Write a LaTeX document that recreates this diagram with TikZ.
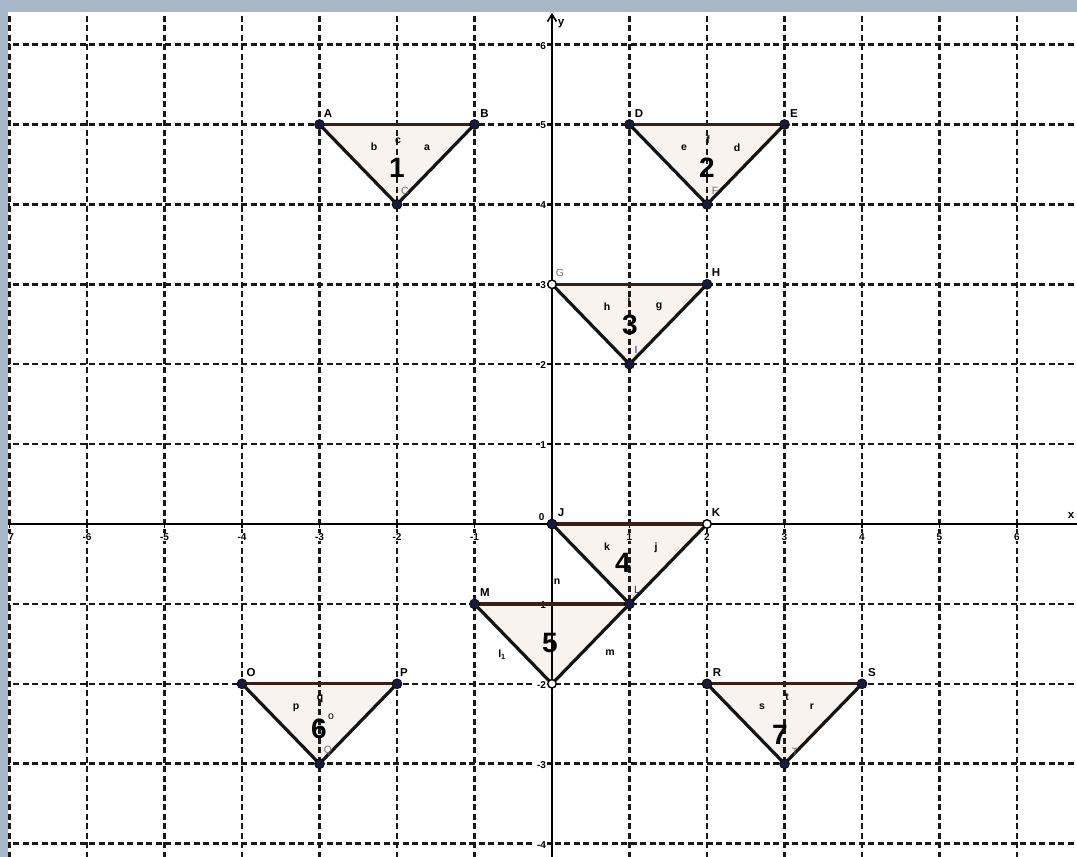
\documentclass[tikz,border=0pt]{standalone}
\usepackage{fontspec}
\setmainfont{Liberation Sans}
\usetikzlibrary{arrows.meta}
\definecolor{bandc}{RGB}{168,184,200}
\definecolor{gridc}{RGB}{25,25,25}
\definecolor{topc}{RGB}{58,32,20}
\definecolor{sidec}{RGB}{20,20,20}
\definecolor{ptc}{RGB}{25,25,60}
\definecolor{trifill}{RGB}{153,51,0}
\definecolor{navyl}{RGB}{40,40,130}
\definecolor{greyl}{RGB}{110,110,110}
\begin{document}
\begin{tikzpicture}[x=1pt,y=-1pt,
  gridline/.style={draw=gridc, line width=2.5pt, dash pattern=on 6pt off 3.5pt},
  axisline/.style={line width=2.6pt, draw=black},
  ticklab/.style={font=\bfseries\fontsize{10}{11}\selectfont, fill=white, inner sep=0.8pt},
  plab/.style={font=\bfseries\fontsize{11.5}{12}\selectfont, inner sep=0pt},
  slab/.style={font=\bfseries\fontsize{10.5}{11}\selectfont, inner sep=0pt},
  num/.style={font=\bfseries\fontsize{28}{30}\selectfont, inner sep=0pt},
  tri/.style={fill=trifill, fill opacity=0.06},
  topedge/.style={draw=topc, line width=3.2pt, line cap=round},
  sideedge/.style={draw=sidec, line width=3.2pt, line cap=round, line join=round},
  dot/.style={circle, fill=ptc, draw=black, line width=0.6pt, minimum size=10pt, inner sep=0pt},
  hdot/.style={circle, fill=white, draw=black, line width=1.4pt, minimum size=8.5pt, inner sep=0pt}]

\useasboundingbox (0,0) rectangle (1077,857);
\fill[white] (0,0) rectangle (1077,857);

% grid and point coordinates (graph units)
\begin{scope}[shift={(552,524)}, x=77.5pt, y=79.9pt]
  \foreach \i in {-7,...,-1,1,2,...,6} \draw[gridline] (\i,6.6) -- (\i,-4.2);
  \foreach \j in {-4,...,-1,1,2,...,6} \draw[gridline] (-7.2,\j) -- (6.8,\j);
  \coordinate (A) at (-3,5);  \coordinate (B) at (-1,5);  \coordinate (C) at (-2,4);
  \coordinate (D) at (1,5);   \coordinate (E) at (3,5);   \coordinate (F) at (2,4);
  \coordinate (G) at (0,3);   \coordinate (H) at (2,3);   \coordinate (I) at (1,2);
  \coordinate (J) at (0,0);   \coordinate (K) at (2,0);   \coordinate (L) at (1,-1);
  \coordinate (M) at (-1,-1); \coordinate (N) at (0,-2);
  \coordinate (O) at (-4,-2); \coordinate (P) at (-2,-2); \coordinate (Q) at (-3,-3);
  \coordinate (R) at (2,-2);  \coordinate (S) at (4,-2);  \coordinate (T) at (3,-3);
  % axis ticks
  \foreach \i in {-7,...,-1,1,2,...,6} \draw[line width=1.4pt] (\i,0) -- ++(0,-4pt);
  \foreach \j in {-4,...,-1,1,2,...,6} \draw[line width=1.4pt] (0,\j) -- ++(-4pt,0);
  % tick labels
  \foreach \i in {-7,...,-1,1,2,...,6} \node[ticklab] at ([yshift=-13pt]\i,0) {\i};
  \foreach \j in {-4,...,-1,1,2,...,6} \node[ticklab, anchor=east] at ([xshift=-5pt,yshift=-1pt]0,\j) {\j};
\end{scope}
\node[ticklab] (zero) at (541.7,516.7) {0};

% axes
\draw[axisline] (0,524) -- (1077,524);
\draw[axisline, -{Straight Barb[length=7pt,width=9pt,line width=1.6pt]}] (552,857) -- (552,13);
\node[plab] (ylab) at (561,24) {y};
\node[plab] (xlab) at (1071,515) {x};

% triangles
\foreach \p/\q/\r in {A/B/C, D/E/F, G/H/I, J/K/L, M/L/N, O/P/Q, R/S/T}{
  \fill[tri] (\p) -- (\q) -- (\r) -- cycle;
  \draw[sideedge] (\p) -- (\r) -- (\q);
  \draw[topedge] (\p) -- (\q);
}

% points
\foreach \p in {A,B,C,D,E,F,H,I,J,L,M,O,P,Q,R,S,T} \node[dot] at (\p) {};
\foreach \p in {G,K,N} \node[hdot] at (\p) {};

% point labels
\node[plab] (lA) at (328,114) {A};
\node[plab] (lB) at (484.5,114) {B};
\node[plab, text=greyl, font=\fontsize{10.5}{11}\selectfont] (lC) at (405,191) {C};
\node[plab] (lD) at (639,114) {D};
\node[plab] (lE) at (794,114) {E};
\node[plab, text=greyl, font=\fontsize{10.5}{11}\selectfont] (lF) at (715,191) {F};
\node[plab, text=greyl, font=\fontsize{10.5}{11}\selectfont] (lG) at (560,273) {G};
\node[plab] (lH) at (716,273) {H};
\node[plab, text=navyl, font=\fontsize{10.5}{11}\selectfont] (lI) at (636,350) {I};
\node[plab] (lJ) at (561,513) {J};
\node[plab] (lK) at (716,513) {K};
\node[plab, text=navyl, font=\fontsize{10.5}{11}\selectfont] (lL) at (637,590) {L};
\node[plab] (lM) at (485,593) {M};
\node[plab] (lO) at (251,673) {O};
\node[plab] (lP) at (404,673) {P};
\node[plab, text=greyl, font=\fontsize{10.5}{11}\selectfont] (lQ) at (328,751) {Q};
\node[plab] (lR) at (717,673) {R};
\node[plab] (lS) at (872,673) {S};
\node[plab, text=greyl, font=\fontsize{10.5}{11}\selectfont] (lT) at (795,752) {T};

% segment labels
\node[slab] (sb) at (374,147) {b};
\node[slab] (sc) at (398,141) {c};
\node[slab] (sa) at (427,148) {a};
\node[slab] (se) at (684,148) {e};
\node[slab] (sf) at (708,140) {f};
\node[slab] (sd) at (737,148) {d};
\node[slab] (sh) at (607,307) {h};
\node[slab] (si) at (629,300) {i};
\node[slab] (sg) at (659,307) {g};
\node[slab] (sk) at (607,547) {k};
\node[slab] (sj) at (656,548) {j};
\node[slab] (sn) at (557,582) {n};
\node[slab] (sl) at (502,655) {l\textsubscript{1}};
\node[slab] (sm) at (610,653) {m};
\node[slab] (sp) at (296,708) {p};
\node[slab] (sq) at (320,699) {q};
\node[slab, font=\fontsize{10.5}{11}\selectfont] (so) at (331,717) {o};
\node[slab] (ss) at (762,707) {s};
\node[slab] (st) at (787,697) {t};
\node[slab] (sr) at (812,707) {r};

% triangle numbers
\node[num] (n1) at (397,168) {1};
\node[num] (n2) at (707,168) {2};
\node[num] (n3) at (630,325) {3};
\node[num] (n4) at (623,563) {4};
\node[num] (n5) at (550,643) {5};
\node[num] (n6) at (319,729) {6};
\node[num] (n7) at (780,735) {7};

% window band
\fill[bandc] (0,0) rectangle (1077,12);
\fill[bandc] (0,0) rectangle (8,857);
\end{tikzpicture}
\end{document}
